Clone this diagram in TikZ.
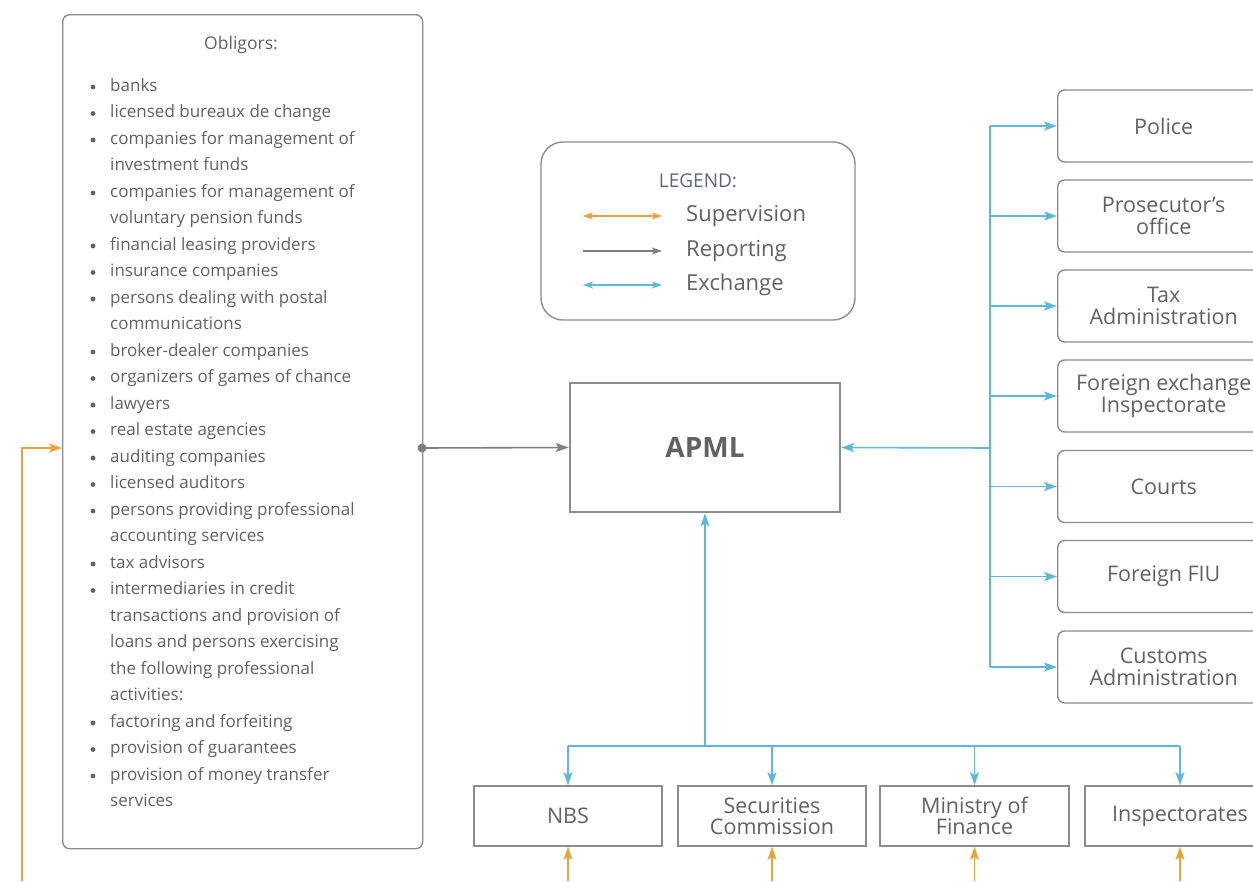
\documentclass[tikz,border=0pt]{standalone}
\usepackage{fontspec}
\setmainfont{Open Sans}
\usetikzlibrary{arrows.meta}
\definecolor{supc}{HTML}{E8A33A}
\definecolor{repc}{HTML}{7F7F7F}
\definecolor{excc}{HTML}{5DB8DA}
\definecolor{txtc}{HTML}{626262}
\definecolor{framec}{HTML}{8C8C8C}
\begin{document}
\begin{tikzpicture}[x=1pt,y=-1pt,
  >={Stealth[length=13pt,width=9pt,inset=3pt]},
  rbox/.style={draw=framec,line width=1.4pt,rounded corners=7pt,text=txtc,align=center,
    font=\fontsize{21.5}{22}\selectfont,minimum width=212pt,minimum height=72pt,inner sep=2pt,anchor=west},
  sbox/.style={draw=framec,line width=1.6pt,text=txtc,align=center,
    font=\fontsize{21.5}{21}\selectfont,minimum width=188pt,minimum height=60pt,inner sep=2pt},
  supl/.style={draw=supc,line width=1.6pt},
  repl/.style={draw=repc,line width=1.6pt},
  excl/.style={draw=excc,line width=1.6pt},
  listtxt/.style={anchor=west,text=txtc,font=\fontsize{17}{18}\selectfont,inner sep=0pt,text height=12pt,text depth=3.5pt},
]
\useasboundingbox (0,0) rectangle (1253,881);
\clip (0,0) rectangle (1253,881);
\fill[white] (0,0) rectangle (1253,881);

% Obligors box
\node[draw=framec,line width=1.4pt,rounded corners=7pt,minimum width=360pt,minimum height=834pt,anchor=north west,inner sep=0pt] (obl) at (62,14) {};
\node[text=txtc,font=\fontsize{17.5}{19}\selectfont] (obltitle) at (241,45) {Obligors:};
\foreach \b/\t [count=\i] in {
 1/banks,
 1/licensed bureaux de change,
 1/companies for management of,
 0/investment funds,
 1/companies for management of,
 0/voluntary pension funds,
 1/financial leasing providers,
 1/insurance companies,
 1/persons dealing with postal,
 0/communications,
 1/broker-dealer companies,
 1/organizers of games of chance,
 1/lawyers,
 1/real estate agencies,
 1/auditing companies,
 1/licensed auditors,
 1/persons providing professional,
 0/accounting services,
 1/tax advisors,
 1/intermediaries in credit,
 0/transactions and provision of,
 0/loans and persons exercising,
 0/the following professional,
 0/activities:,
 1/factoring and forfeiting,
 1/provision of guarantees,
 1/provision of money transfer,
 0/services}{
  \pgfmathsetmacro{\yy}{87+26.5*(\i-1)}
  \node[listtxt] (l\i) at (110,\yy) {\t};
  \ifnum\b=1 \fill[txtc] (93,\yy) circle (2.4pt); \fi
}

% Legend
\node[draw=framec,line width=1.4pt,rounded corners=22pt,minimum width=314pt,minimum height=178pt,inner sep=0pt] (legend) at (698,231) {};
\node[text=txtc!80!blue!60!gray,font=\fontsize{19}{20}\selectfont] (legtitle) at (698,181) {LEGEND:};
\coordinate (ls1) at (583,216); \coordinate (le1) at (662,216);
\coordinate (ls2) at (583,251); \coordinate (le2) at (662,251);
\coordinate (ls3) at (583,285); \coordinate (le3) at (662,285);
\draw[supl,<->,>={Stealth[length=10pt,width=7pt,inset=2.5pt]},line width=1.2pt] (ls1) -- (le1);
\draw[repl,->,>={Stealth[length=10pt,width=7pt,inset=2.5pt]},line width=1.2pt] (ls2) -- (le2);
\draw[excl,<->,>={Stealth[length=10pt,width=7pt,inset=2.5pt]},line width=1.2pt] (ls3) -- (le3);
\node[anchor=west,text=txtc,font=\fontsize{22}{24}\selectfont,inner sep=0pt] (lt1) at (686,216) {Supervision};
\node[anchor=west,text=txtc,font=\fontsize{22}{24}\selectfont,inner sep=0pt] (lt2) at (686,251) {Reporting};
\node[anchor=west,text=txtc,font=\fontsize{22}{24}\selectfont,inner sep=0pt] (lt3) at (686,285) {Exchange};

% APML
\node[draw=framec,line width=2.6pt,minimum width=270pt,minimum height=129pt,text=txtc,font=\fontsize{28}{30}\selectfont\bfseries] (apml) at (705,447.5) {APML};

% Reporting
\coordinate (rp) at (422,448);
\draw[repl,->] (rp) -- (apml.west);
\fill[repc] (rp) circle (4.5pt);

% Supervision to obligors
\coordinate (slb) at (22,881);
\draw[supl,->] (slb) |- (obl.west |- rp);

% Right boxes
\node[rbox] (police) at (1057,126) {Police};
\node[rbox] (pros) at (1057,216) {Prosecutor's\\office};
\node[rbox] (tax) at (1057,306) {Tax\\Administration};
\node[rbox] (fx) at (1057,396) {Foreign exchange\\Inspectorate};
\node[rbox] (courts) at (1057,486.5) {Courts};
\node[rbox] (ffiu) at (1057,576.5) {Foreign FIU};
\node[rbox] (customs) at (1057,667) {Customs\\Administration};

\coordinate (busr) at (990,448);
\draw[excl] (busr |- police.west) -- (busr |- customs.west);
\draw[excl,->] (busr) -- (apml.east);
\foreach \n in {police,pros,tax,fx,courts,ffiu,customs}{
  \draw[excl,->] (busr |- \n.west) -- (\n.west);
}

% Bottom boxes
\node[sbox] (nbs) at (568,816) {NBS};
\node[sbox] (sec) at (772,816) {Securities\\Commission};
\node[sbox,minimum width=189pt] (mof) at (974.5,816) {Ministry of\\Finance};
\node[sbox,minimum width=190pt] (insp) at (1180,816) {Inspectorates};

\coordinate (bt) at (705,746);
\coordinate (bot) at (0,881);
\draw[excl,->] (bt) -- (apml.south);
\draw[excl] (nbs.north |- bt) -- (insp.north |- bt);
\foreach \n in {nbs,sec,mof,insp}{
  \draw[excl,->] (\n.north |- bt) -- (\n.north);
  \draw[supl,->] (\n.south |- bot) -- (\n.south);
}
\end{tikzpicture}
\end{document}
